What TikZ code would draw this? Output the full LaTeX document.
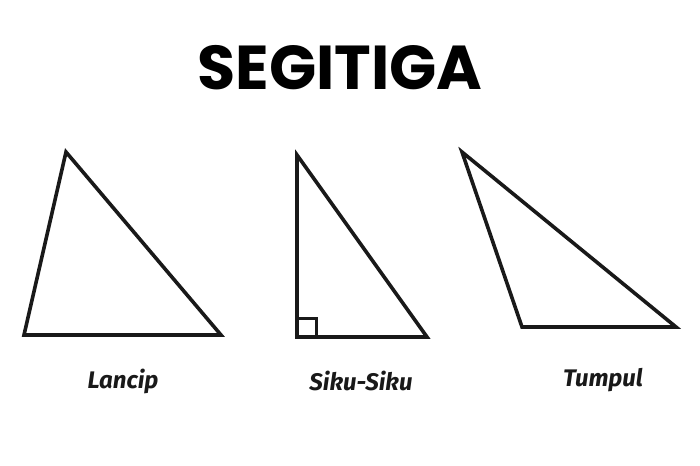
\documentclass[tikz,border=0pt]{standalone}
\usepackage{fontspec}
\setmainfont{Poppins}
\newfontfamily\labelfont{Fira Sans}
\begin{document}
\begin{tikzpicture}[x=1pt,y=-1pt,
  tri/.style={draw=black!90, line width=3.6pt, line join=miter},
  lbl/.style={font=\labelfont\bfseries\itshape\fontsize{24}{28}\selectfont, text=black!90},
  ttl/.style={font=\bfseries\fontsize{62}{70}\selectfont, text=black}]
\useasboundingbox (0,0) rectangle (700,465);
\node[ttl] (title) at (340,68) {SEGITIGA};
% Lancip
\coordinate (a1) at (66,152);
\coordinate (a2) at (24,335);
\coordinate (a3) at (221,335);
\draw[tri] (a1) -- (a2) -- (a3) -- cycle;
% Siku-siku
\coordinate (b1) at (297,155);
\coordinate (b2) at (297,337);
\coordinate (b3) at (427,337);
\draw[tri] (b1) -- (b2) -- (b3) -- cycle;
\draw[draw=black!90, line width=3pt] (297,318) -| (316,337);
% Tumpul
\coordinate (c1) at (462,152);
\coordinate (c2) at (522,327);
\coordinate (c3) at (676,327);
\draw[tri] (c1) -- (c2) -- (c3) -- cycle;
\node[lbl] (l1) at (123,381) {Lancip};
\node[lbl] (l2) at (361,381) {Siku-Siku};
\node[lbl] (l3) at (603,380) {Tumpul};
\end{tikzpicture}
\end{document}
